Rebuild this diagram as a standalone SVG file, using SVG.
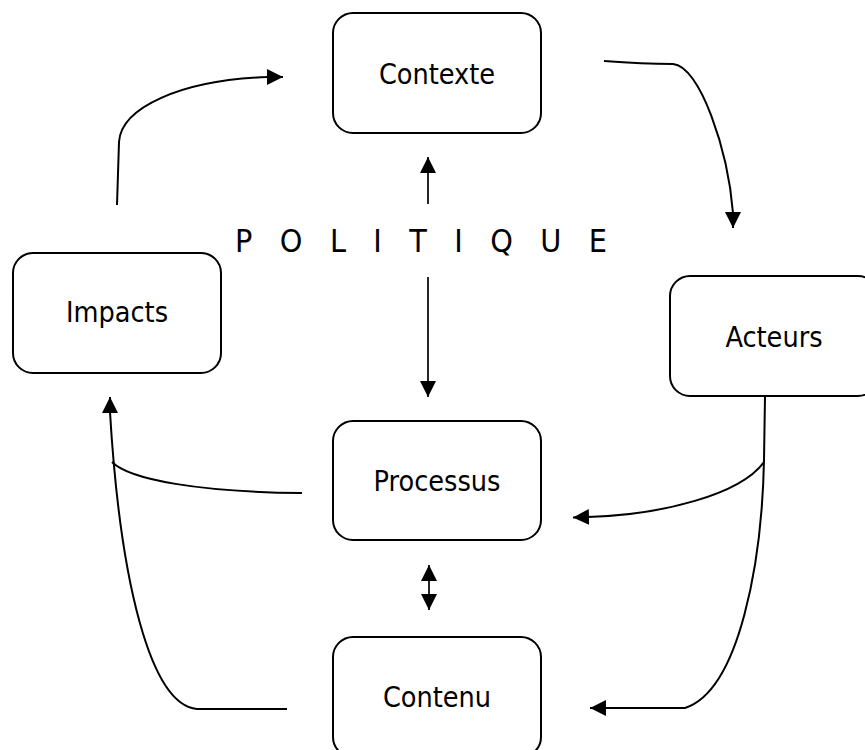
<svg xmlns="http://www.w3.org/2000/svg" width="865" height="750" viewBox="0 0 865 750">
<style>
  .box { fill: #fff; stroke: #000; stroke-width: 2; }
  .lbl { font-family: "DejaVu Sans Condensed", "DejaVu Sans", sans-serif; font-stretch: condensed; font-size: 28.5px; fill: #000; text-anchor: middle; }
  .pol { font-family: "DejaVu Sans Condensed", "DejaVu Sans", sans-serif; font-stretch: condensed; font-size: 32px; fill: #000; }
  .con { fill: none; stroke: #000; stroke-width: 2; }
  .thin { fill: none; stroke: #000; stroke-width: 1.7; }
</style>
<defs>
  <marker id="arr" markerUnits="userSpaceOnUse" markerWidth="17" markerHeight="17" refX="16" refY="8" orient="auto-start-reverse" viewBox="0 0 17 17">
    <path d="M0,0 L16,8 L0,16 z" fill="#000"/>
  </marker>
</defs>
<rect width="865" height="750" fill="#fff"/>

<g id="contexte">
  <rect class="box" x="333" y="13" width="208" height="120" rx="20"/>
  <text class="lbl" x="437" y="84">Contexte</text>
</g>
<g id="impacts">
  <rect class="box" x="13" y="253" width="208" height="120" rx="20"/>
  <text class="lbl" x="117" y="322">Impacts</text>
</g>
<g id="acteurs">
  <rect class="box" x="670" y="276" width="208" height="120" rx="20"/>
  <text class="lbl" x="774" y="347">Acteurs</text>
</g>
<g id="processus">
  <rect class="box" x="333" y="421" width="208" height="119" rx="20"/>
  <text class="lbl" x="437" y="491">Processus</text>
</g>
<g id="contenu">
  <rect class="box" x="333" y="637" width="208" height="120" rx="20"/>
  <text class="lbl" x="437" y="707">Contenu</text>
</g>
<g id="politique">
  <text class="pol" x="235" y="252" textLength="372" lengthAdjust="spacing">P O L I T I Q U E</text>
</g>

<g id="connectors">
  <path class="con" d="M117,205 L119,142 C 121,108 180,80 268,77 L283,77" marker-end="url(#arr)"/>
  <path class="con" d="M604,61 C 630,63 650,64 673,64 C 700,66 728,150 733,213 L733,228" marker-end="url(#arr)"/>
  <path class="thin" d="M428,204 L428,157" marker-end="url(#arr)"/>
  <path class="thin" d="M428,277 L428,397" marker-end="url(#arr)"/>
  <path class="thin" d="M429,565 L429,610" marker-start="url(#arr)" marker-end="url(#arr)"/>
  <path class="con" d="M302,493 C 200,492 130,480 112,462"/>
  <path class="con" d="M287,709 L197,709 C 150,705 120,580 110,412 L110,397" marker-end="url(#arr)"/>
  <path class="con" d="M764,462 C 740,495 660,515 588,517 L573,517.5" marker-end="url(#arr)"/>
  <path class="con" d="M765,396 L764,460 C 762,560 740,690 685,708 L590,708" marker-end="url(#arr)"/>
</g>
</svg>
